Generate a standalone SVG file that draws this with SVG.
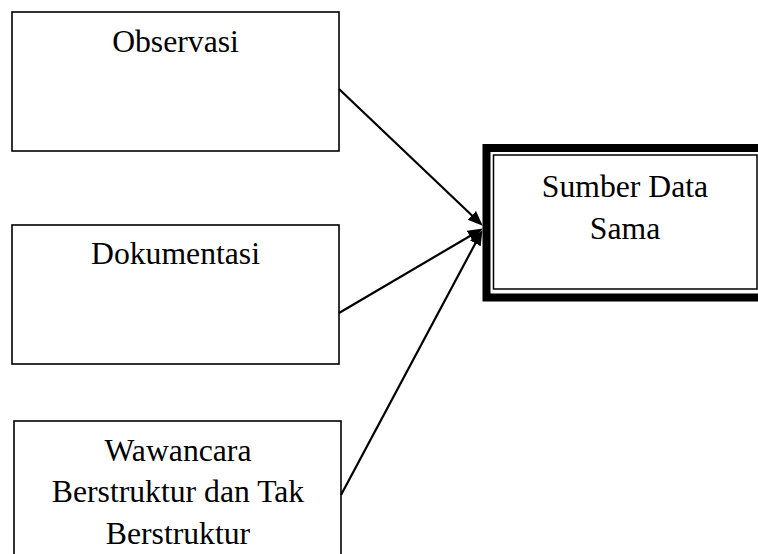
<svg xmlns="http://www.w3.org/2000/svg" width="758" height="554" viewBox="0 0 758 554">
<style>
.box{fill:#fff;stroke:#000;stroke-width:1.6}
.t{font-family:"Liberation Serif","Times New Roman",serif;font-size:31.7px;fill:#000;text-anchor:middle}
.c{stroke:#000;stroke-width:2.2;fill:none;marker-end:url(#ah)}
</style>
<defs>
<marker id="ah" markerUnits="userSpaceOnUse" markerWidth="16" markerHeight="13" refX="10" refY="6" orient="auto">
<path d="M0,0 L15,6 L0,12 z" fill="#000"/>
</marker>
</defs>
<rect width="758" height="554" fill="#fff"/>
<g id="observasi">
<rect class="box" x="12" y="12" width="327" height="139"/>
<text class="t" x="175.5" y="52">Observasi</text>
</g>
<g id="dokumentasi">
<rect class="box" x="12" y="225" width="327" height="139"/>
<text class="t" x="175.5" y="264">Dokumentasi</text>
</g>
<g id="wawancara">
<rect class="box" x="14" y="421" width="327" height="145"/>
<text class="t" x="178" y="461">Wawancara</text>
<text class="t" x="178" y="502">Berstruktur dan Tak</text>
<text class="t" x="178" y="544">Berstruktur</text>
</g>
<g id="sumber">
<rect x="486.5" y="148" width="276" height="149.5" fill="#fff" stroke="#000" stroke-width="8"/>
<rect x="493.5" y="155" width="263.5" height="134" fill="none" stroke="#000" stroke-width="1.5"/>
<text class="t" x="625" y="197">Sumber Data</text>
<text class="t" x="625" y="238.5">Sama</text>
</g>
<g id="connectors">
<line class="c" x1="339" y1="89" x2="479.1" y2="222.2"/>
<line class="c" x1="339" y1="313" x2="478.5" y2="231"/>
<line class="c" x1="341" y1="495" x2="480.1" y2="234.5"/>
</g>
</svg>
